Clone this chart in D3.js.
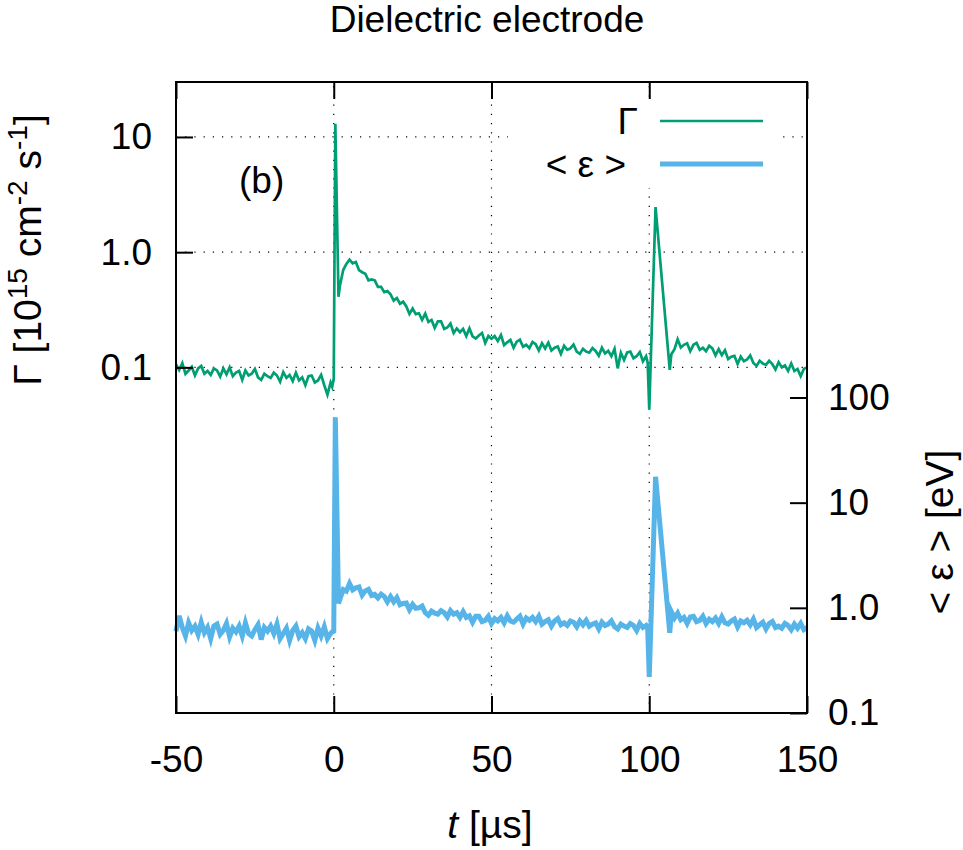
<!DOCTYPE html>
<html>
<head>
<meta charset="utf-8">
<script src="https://cdn.jsdelivr.net/npm/d3@7"></script>
<style>
body { margin: 0; background: #fff; }
text { font-family: "Liberation Sans", Arial, sans-serif; }
</style>
</head>
<body>
<script>
"use strict";

// time in microseconds (shared by both traces)
var time = [
  -50,-49,-48,-47,-46,-45,-44,-43,-42,-41,
  -40,-39,-38,-37,-36,-35,-34,-33,-32,-31,
  -30,-29,-28,-27,-26,-25,-24,-23,-22,-21,
  -20,-19,-18,-17,-16,-15,-14,-13,-12,-11,
  -10,-9,-8,-7,-6,-5,-4,-3,-2,-1,
  -0.5,0,0.5,1.5,
  2,3,4,5,6,7,8,9,10,11,
  12,13,14,15,16,17,18,19,20,21,
  22,23,24,25,26,27,28,29,30,31,
  32,33,34,35,36,37,38,39,40,41,
  42,43,44,45,46,47,48,49,50,51,
  52,53,54,55,56,57,58,59,60,61,
  62,63,64,65,66,67,68,69,70,71,
  72,73,74,75,76,77,78,79,80,81,
  82,83,84,85,86,87,88,89,90,91,
  92,93,94,95,96,97,98,99,
  99.5,100,102,106.5,
  107,108,109,110,111,112,113,114,115,116,
  117,118,119,120,121,122,123,124,125,126,
  127,128,129,130,131,132,133,134,135,136,
  137,138,139,140,141,142,143,144,145,146,
  147,148,149,150
];

// flux Gamma [1e15 cm^-2 s^-1]
var gamma = [
  0.106,0.095,0.109,0.088,0.094,0.101,0.085,0.098,0.103,0.088,
  0.093,0.086,0.098,0.094,0.083,0.098,0.087,0.100,0.084,0.090,
  0.093,0.078,0.094,0.085,0.088,0.097,0.082,0.078,0.088,0.084,
  0.081,0.090,0.085,0.075,0.091,0.081,0.086,0.076,0.090,0.077,
  0.082,0.070,0.084,0.085,0.074,0.077,0.086,0.070,0.058,0.074,
  0.068,0.080,13.0,0.41,
  0.52,0.70,0.79,0.86,0.80,0.82,0.70,0.67,0.65,0.57,
  0.58,0.57,0.50,0.50,0.45,0.46,0.43,0.38,0.40,0.357,
  0.372,0.338,0.291,0.324,0.290,0.295,0.258,0.293,0.248,0.258,
  0.220,0.251,0.251,0.216,0.222,0.240,0.199,0.218,0.202,0.216,
  0.187,0.218,0.186,0.178,0.189,0.199,0.163,0.187,0.177,0.187,
  0.169,0.191,0.156,0.165,0.173,0.148,0.167,0.174,0.151,0.157,
  0.147,0.166,0.159,0.140,0.162,0.146,0.164,0.140,0.148,0.152,
  0.131,0.154,0.142,0.146,0.158,0.137,0.131,0.145,0.137,0.134,
  0.147,0.139,0.126,0.148,0.132,0.139,0.125,0.145,0.098,0.134,
  0.116,0.135,0.137,0.120,0.125,0.136,0.113,0.125,
  0.110,0.043,2.46,0.095,
  0.130,0.144,0.175,0.149,0.157,0.162,0.138,0.157,0.163,0.142,
  0.148,0.138,0.154,0.146,0.127,0.144,0.128,0.141,0.118,0.124,
  0.126,0.107,0.124,0.113,0.117,0.127,0.109,0.103,0.114,0.108,
  0.105,0.114,0.107,0.096,0.111,0.100,0.104,0.093,0.108,0.093,
  0.097,0.084,0.097,0.100
];

// mean energy <eps> [eV]
var energy = [
  0.60,0.84,0.65,0.54,0.72,0.61,0.67,0.56,0.73,0.58,
  0.65,0.51,0.67,0.70,0.56,0.61,0.71,0.53,0.64,0.59,
  0.67,0.54,0.72,0.57,0.54,0.62,0.69,0.50,0.65,0.60,
  0.67,0.57,0.70,0.51,0.57,0.64,0.49,0.61,0.67,0.53,
  0.58,0.51,0.63,0.60,0.49,0.64,0.54,0.66,0.51,0.57,
  0.59,0.60,65,1.10,
  1.22,1.49,1.44,1.70,1.48,1.55,1.58,1.32,1.45,1.50,
  1.31,1.34,1.24,1.35,1.28,1.14,1.28,1.14,1.25,1.07,
  1.10,1.11,0.96,1.08,0.99,1.00,1.04,0.90,0.85,0.93,
  0.89,0.87,0.94,0.90,0.82,0.94,0.87,0.90,0.81,0.92,
  0.81,0.84,0.73,0.83,0.83,0.74,0.76,0.83,0.71,0.79,
  0.75,0.81,0.72,0.84,0.75,0.73,0.78,0.83,0.70,0.80,
  0.76,0.81,0.74,0.83,0.70,0.74,0.77,0.67,0.75,0.79,
  0.69,0.72,0.68,0.75,0.73,0.66,0.75,0.69,0.76,0.67,
  0.70,0.72,0.63,0.73,0.68,0.70,0.75,0.66,0.63,0.70,
  0.67,0.65,0.71,0.68,0.61,0.71,0.65,0.68,
  0.64,0.22,17.6,0.58,
  0.92,0.80,0.89,0.77,0.81,0.71,0.82,0.83,0.74,0.76,
  0.83,0.71,0.78,0.74,0.80,0.71,0.82,0.72,0.70,0.75,
  0.78,0.66,0.75,0.72,0.76,0.69,0.78,0.65,0.69,0.73,
  0.63,0.71,0.74,0.65,0.67,0.64,0.71,0.68,0.62,0.70,
  0.64,0.71,0.62,0.65
];

var xTicks = [-50, 0, 50, 100, 150];
var xGrid = [0, 50, 100];
var gammaTicks = [0.1, 1, 10];
var gammaTickLabels = ["0.1", "1.0", "10"];
var energyTicks = [0.1, 1, 10, 100];
var energyTickLabels = ["0.1", "1.0", "10", "100"];
var seriesNames = ["\u0393", "< \u03b5 >"];
var seriesColors = ["#009e73", "#56b4e9"];

var W = 963, H = 850;
var margin = {top: 82, right: 156, bottom: 137, left: 176};
var fontSize = 37;
var labelSize = 39;

var svg = d3.select("body").append("svg")
    .attr("width", W)
    .attr("height", H);

var x = d3.scaleLinear().domain([-50, 150]).range([margin.left, W - margin.right]);
var y = d3.scaleLog().domain([1e-4, 30]).range([H - margin.bottom, margin.top]);
var y2 = d3.scaleLog().domain([0.1, 1e5]).range([H - margin.bottom, margin.top]);

var x0 = x.range()[0], x1 = x.range()[1];
var yTop = margin.top, yBot = H - margin.bottom;

// dotted grid
var grid = svg.append("g")
    .attr("stroke", "#000")
    .attr("stroke-width", 1.2)
    .attr("stroke-dasharray", "1.2,8");
grid.selectAll(".gx").data(xGrid).enter().append("line")
    .attr("x1", d => x(d)).attr("x2", d => x(d))
    .attr("y1", yBot).attr("y2", yTop);
grid.selectAll(".gy").data(gammaTicks).enter().append("line")
    .attr("x1", x0).attr("x2", x1)
    .attr("y1", d => y(d)).attr("y2", d => y(d));

// traces
var lineGamma = d3.line()
    .x((d, i) => x(time[i]))
    .y(d => y(d));
var lineEnergy = d3.line()
    .x((d, i) => x(time[i]))
    .y(d => y2(d));

svg.append("path")
    .datum(gamma)
    .attr("d", lineGamma)
    .attr("fill", "none")
    .attr("stroke", seriesColors[0])
    .attr("stroke-width", 2.7);

svg.append("path")
    .datum(energy)
    .attr("d", lineEnergy)
    .attr("fill", "none")
    .attr("stroke", seriesColors[1])
    .attr("stroke-width", 5);

// legend (opaque key)
var key = svg.append("g");
key.append("rect")
    .attr("x", 508).attr("y", 98)
    .attr("width", 275).attr("height", 90)
    .attr("fill", "#fff");
var keyRows = [{y: 121, tx: 638, w: 2.7}, {y: 164, tx: 626, w: 5}];
keyRows.forEach(function(r, i) {
    key.append("line")
        .attr("x1", 660).attr("x2", 763)
        .attr("y1", r.y).attr("y2", r.y)
        .attr("stroke", seriesColors[i])
        .attr("stroke-width", r.w);
    key.append("text")
        .attr("x", r.tx).attr("y", r.y + 13)
        .attr("text-anchor", "end")
        .attr("font-size", fontSize)
        .text(seriesNames[i]);
});

// axes with inward ticks
function styleAxis(g) {
    g.select(".domain").remove();
    g.selectAll(".tick line").attr("stroke", "#000").attr("stroke-width", 2);
    g.selectAll(".tick text").attr("font-size", fontSize).attr("fill", "#000")
        .style("font-family", "'Liberation Sans', Arial, sans-serif");
}

svg.append("g")
    .attr("transform", "translate(0," + yBot + ")")
    .call(d3.axisBottom(x).tickValues(xTicks).tickSize(-17).tickSizeOuter(0).tickPadding(33)
        .tickFormat(d => String(d)))
    .call(styleAxis);

svg.append("g")
    .attr("transform", "translate(0," + yTop + ")")
    .call(d3.axisTop(x).tickValues(xTicks).tickSize(-17).tickSizeOuter(0).tickFormat(""))
    .call(styleAxis);

svg.append("g")
    .attr("transform", "translate(" + x0 + ",0)")
    .call(d3.axisLeft(y).tickValues(gammaTicks).tickSize(-17).tickSizeOuter(0).tickPadding(24)
        .tickFormat((d, i) => gammaTickLabels[i]))
    .call(styleAxis);

svg.append("g")
    .attr("transform", "translate(" + x1 + ",0)")
    .call(d3.axisRight(y2).tickValues(energyTicks).tickSize(-17).tickSizeOuter(0).tickPadding(21)
        .tickFormat((d, i) => energyTickLabels[i]))
    .call(styleAxis);

// frame
svg.append("rect")
    .attr("x", x0).attr("y", yTop)
    .attr("width", x1 - x0).attr("height", yBot - yTop)
    .attr("fill", "none")
    .attr("stroke", "#000")
    .attr("stroke-width", 2);

// titles and labels
svg.append("text")
    .attr("x", 487).attr("y", 32)
    .attr("text-anchor", "middle")
    .attr("font-size", fontSize)
    .text("Dielectric electrode");

svg.append("text")
    .attr("x", 239).attr("y", 193)
    .attr("font-size", fontSize)
    .text("(b)");

var xl = svg.append("text")
    .attr("x", 490).attr("y", 838)
    .attr("text-anchor", "middle")
    .attr("font-size", labelSize);
xl.append("tspan").attr("font-style", "italic").text("t");
xl.append("tspan").text(" [\u00b5s]");

var yl = svg.append("text")
    .attr("transform", "translate(41,250) rotate(-90)")
    .attr("text-anchor", "middle")
    .attr("font-size", labelSize);
yl.append("tspan").text("\u0393 [10");
yl.append("tspan").attr("font-size", 28).attr("dy", -14).text("15");
yl.append("tspan").attr("dy", 14).text(" cm");
yl.append("tspan").attr("font-size", 28).attr("dy", -14).text("-2");
yl.append("tspan").attr("dy", 14).text(" s");
yl.append("tspan").attr("font-size", 28).attr("dy", -14).text("-1");
yl.append("tspan").attr("dy", 14).text("]");

svg.append("text")
    .attr("transform", "translate(953,532) rotate(-90)")
    .attr("text-anchor", "middle")
    .attr("font-size", labelSize)
    .text("< \u03b5 > [eV]");
</script>
</body>
</html>
